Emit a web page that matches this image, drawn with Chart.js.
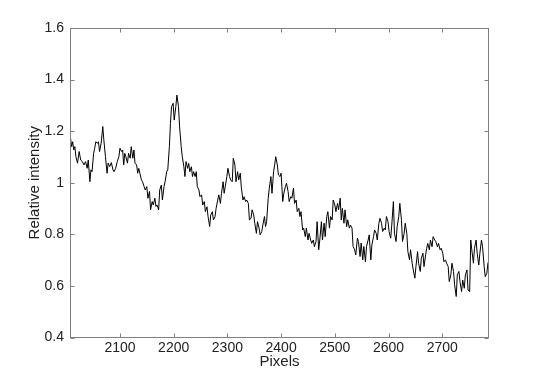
<!DOCTYPE html>
<html>
<head>
<meta charset="utf-8">
<title>Relative intensity</title>
<script src="https://cdn.jsdelivr.net/npm/chart.js@4.4.0/dist/chart.umd.min.js"></script>
<style>
  body { margin: 0; background: #fff; }
  #wrap { width: 540px; height: 380px; }
</style>
</head>
<body>
<div id="wrap"><canvas id="spectrum" width="540" height="380"></canvas></div>
<script>
// values
const pixelPos = [
  2007, 2010, 2012, 2014, 2016, 2018, 2021, 2024, 2027, 2030, 2033, 2036, 2039, 2041, 2044, 2046, 2048, 2051, 2053, 2055,
  2058, 2060, 2062, 2065, 2068, 2070, 2073, 2076, 2078, 2081, 2084, 2087, 2089, 2092, 2095, 2098, 2100, 2103, 2105, 2107,
  2109, 2111, 2114, 2116, 2119, 2121, 2124, 2126, 2128, 2131, 2133, 2135, 2137, 2140, 2142, 2145, 2147, 2150, 2152, 2155,
  2157, 2160, 2162, 2165, 2167, 2169, 2172, 2174, 2177, 2179, 2182, 2184, 2187, 2189, 2192, 2194, 2196, 2199, 2201, 2204,
  2206, 2209, 2211, 2214, 2216, 2219, 2221, 2223, 2226, 2228, 2230, 2233, 2235, 2237, 2240, 2242, 2244, 2247, 2249, 2252,
  2254, 2257, 2259, 2262, 2264, 2267, 2269, 2272, 2274, 2277, 2279, 2282, 2284, 2287, 2289, 2292, 2294, 2296, 2299, 2301,
  2304, 2306, 2309, 2311, 2314, 2316, 2319, 2321, 2324, 2326, 2329, 2331, 2334, 2336, 2339, 2341, 2344, 2346, 2349, 2351,
  2354, 2356, 2359, 2361, 2364, 2366, 2369, 2371, 2373, 2376, 2378, 2381, 2383, 2386, 2388, 2390, 2393, 2395, 2398, 2400,
  2403, 2405, 2408, 2410, 2413, 2415, 2418, 2420, 2423, 2425, 2428, 2430, 2433, 2435, 2437, 2440, 2442, 2445, 2447, 2450,
  2452, 2455, 2457, 2460, 2462, 2465, 2467, 2470, 2472, 2475, 2477, 2480, 2482, 2485, 2487, 2490, 2492, 2495, 2497, 2500,
  2502, 2505, 2507, 2510, 2512, 2514, 2517, 2519, 2522, 2524, 2527, 2529, 2532, 2534, 2537, 2539, 2542, 2544, 2547, 2549,
  2552, 2554, 2557, 2559, 2562, 2564, 2567, 2569, 2572, 2574, 2577, 2579, 2582, 2584, 2587, 2589, 2592, 2594, 2596, 2599,
  2601, 2604, 2606, 2609, 2611, 2614, 2616, 2619, 2621, 2624, 2626, 2629, 2631, 2634, 2636, 2639, 2641, 2644, 2646, 2649,
  2651, 2654, 2656, 2659, 2661, 2664, 2666, 2669, 2671, 2673, 2676, 2678, 2681, 2683, 2686, 2688, 2691, 2693, 2696, 2698,
  2701, 2703, 2706, 2708, 2711, 2713, 2716, 2718, 2721, 2723, 2726, 2728, 2731, 2733, 2736, 2738, 2741, 2743, 2746, 2748,
  2751, 2753, 2755, 2758, 2760, 2763, 2765, 2768, 2770, 2773, 2775, 2778, 2780, 2783, 2785, 2787
];

const intensity = [
  1.190, 1.140, 1.159, 1.127, 1.140, 1.101, 1.076, 1.121, 1.088, 1.082, 1.069, 1.082, 1.056, 1.088, 1.004, 1.050, 1.043, 1.114, 1.134, 1.159,
  1.153, 1.159, 1.121, 1.153, 1.218, 1.166, 1.101, 1.037, 1.076, 1.063, 1.078, 1.050, 1.043, 1.056, 1.082, 1.101, 1.134, 1.121, 1.127, 1.069,
  1.114, 1.101, 1.076, 1.114, 1.095, 1.140, 1.095, 1.127, 1.076, 1.069, 1.037, 1.056, 1.037, 1.011, 1.004, 0.985, 0.972, 0.985, 0.940, 0.966,
  0.895, 0.927, 0.914, 0.940, 0.908, 0.914, 0.895, 0.972, 0.991, 0.933, 0.985, 1.004, 1.043, 1.050, 1.140, 1.230, 1.295, 1.308, 1.243, 1.295,
  1.340, 1.295, 1.217, 1.140, 1.101, 1.062, 1.024, 1.082, 1.056, 1.075, 1.043, 1.062, 1.024, 1.043, 1.024, 1.043, 0.985, 0.972, 0.946, 0.953,
  0.914, 0.927, 0.888, 0.907, 0.869, 0.830, 0.875, 0.888, 0.856, 0.869, 0.901, 0.933, 0.953, 0.920, 0.959, 1.004, 0.959, 0.985, 1.024, 1.056,
  1.024, 1.011, 1.004, 1.095, 1.069, 1.004, 1.043, 1.011, 1.037, 0.980, 0.933, 0.946, 0.927, 0.933, 0.920, 0.856, 0.862, 0.895, 0.875, 0.843,
  0.804, 0.849, 0.824, 0.798, 0.811, 0.836, 0.869, 0.830, 0.849, 0.940, 0.979, 1.024, 0.959, 1.043, 1.069, 1.101, 1.069, 1.030, 1.024, 1.037,
  0.927, 0.959, 0.985, 0.998, 0.966, 0.927, 0.946, 0.940, 0.979, 0.920, 0.933, 0.888, 0.901, 0.869, 0.888, 0.817, 0.824, 0.791, 0.824, 0.778,
  0.804, 0.778, 0.765, 0.778, 0.752, 0.772, 0.849, 0.740, 0.778, 0.849, 0.778, 0.843, 0.791, 0.869, 0.888, 0.824, 0.869, 0.856, 0.933, 0.914,
  0.888, 0.920, 0.895, 0.940, 0.856, 0.901, 0.843, 0.895, 0.830, 0.856, 0.824, 0.836, 0.824, 0.753, 0.740, 0.720, 0.785, 0.772, 0.714, 0.766,
  0.701, 0.753, 0.694, 0.753, 0.778, 0.798, 0.701, 0.759, 0.791, 0.817, 0.804, 0.778, 0.843, 0.862, 0.843, 0.811, 0.824, 0.817, 0.869, 0.849,
  0.811, 0.785, 0.836, 0.927, 0.804, 0.772, 0.830, 0.869, 0.920, 0.856, 0.772, 0.804, 0.843, 0.804, 0.733, 0.701, 0.740, 0.688, 0.662, 0.630,
  0.675, 0.733, 0.688, 0.656, 0.707, 0.727, 0.675, 0.720, 0.746, 0.765, 0.740, 0.778, 0.752, 0.791, 0.778, 0.772, 0.752, 0.765, 0.740, 0.746,
  0.727, 0.694, 0.701, 0.688, 0.675, 0.617, 0.643, 0.688, 0.656, 0.604, 0.559, 0.643, 0.656, 0.617, 0.578, 0.623, 0.591, 0.643, 0.662, 0.584,
  0.578, 0.778, 0.740, 0.688, 0.746, 0.778, 0.727, 0.681, 0.727, 0.778, 0.752, 0.675, 0.636, 0.649, 0.688, 0.700
];

const xTicks = [2100, 2200, 2300, 2400, 2500, 2600, 2700];
const yTicks = [0.4, 0.6, 0.8, 1, 1.2, 1.4, 1.6];

const axisColor = '#808080';
const textColor = '#222222';
const fontFamily = '"Liberation Sans", Arial, Helvetica, sans-serif';

// box around the plot with inward ticks on all four sides
const boxAxes = {
  id: 'boxAxes',
  afterDraw(chart) {
    const ctx = chart.ctx;
    const a = chart.chartArea;
    const sx = chart.scales.x;
    const sy = chart.scales.y;
    const left = Math.round(a.left) + 0.5;
    const right = Math.round(a.right) - 0.5;
    const top = Math.round(a.top) + 0.5;
    const bottom = Math.round(a.bottom) - 0.5;
    const tick = 4;

    ctx.save();
    ctx.strokeStyle = axisColor;
    ctx.lineWidth = 1;
    ctx.strokeRect(left, top, right - left, bottom - top);

    ctx.beginPath();
    xTicks.forEach(v => {
      const px = Math.round(sx.getPixelForValue(v)) + 0.5;
      ctx.moveTo(px, bottom);
      ctx.lineTo(px, bottom - tick);
      ctx.moveTo(px, top);
      ctx.lineTo(px, top + tick);
    });
    yTicks.forEach(v => {
      const py = Math.round(sy.getPixelForValue(v)) + 0.5;
      ctx.moveTo(left, py);
      ctx.lineTo(left + tick, py);
      ctx.moveTo(right, py);
      ctx.lineTo(right - tick, py);
    });
    ctx.stroke();
    ctx.restore();
  }
};

const points = pixelPos.map((x, i) => ({ x: x, y: intensity[i] }));

new Chart(document.getElementById('spectrum'), {
  type: 'line',
  data: {
    datasets: [{
      data: points,
      borderColor: '#000000',
      borderWidth: 1,
      pointRadius: 0,
      tension: 0,
      fill: false
    }]
  },
  options: {
    responsive: false,
    animation: false,
    events: [],
    layout: {
      padding: { top: 28, right: 51, bottom: 0, left: 0 }
    },
    plugins: {
      legend: { display: false },
      tooltip: { enabled: false }
    },
    scales: {
      x: {
        type: 'linear',
        min: 2007,
        max: 2787,
        grid: { display: false, drawTicks: false },
        border: { display: false },
        afterBuildTicks: scale => { scale.ticks = xTicks.map(v => ({ value: v })); },
        afterFit: scale => { scale.height = 42.5; },
        ticks: {
          autoSkip: false,
          maxRotation: 0,
          padding: 2,
          color: textColor,
          font: { family: fontFamily, size: 14 },
          callback: v => String(v)
        },
        title: {
          display: true,
          text: 'Pixels',
          color: textColor,
          font: { family: fontFamily, size: 15 },
          padding: { top: 0, bottom: 9 }
        }
      },
      y: {
        type: 'linear',
        min: 0.4,
        max: 1.6,
        grid: { display: false, drawTicks: false },
        border: { display: false },
        afterBuildTicks: scale => { scale.ticks = yTicks.map(v => ({ value: v })); },
        afterFit: scale => { scale.width = 70; },
        ticks: {
          autoSkip: false,
          padding: 6,
          color: textColor,
          font: { family: fontFamily, size: 14 },
          callback: v => String(v)
        },
        title: {
          display: true,
          text: 'Relative intensity',
          color: textColor,
          font: { family: fontFamily, size: 15 },
          padding: { top: 26, bottom: 0 }
        }
      }
    }
  },
  plugins: [boxAxes]
});
</script>
</body>
</html>
